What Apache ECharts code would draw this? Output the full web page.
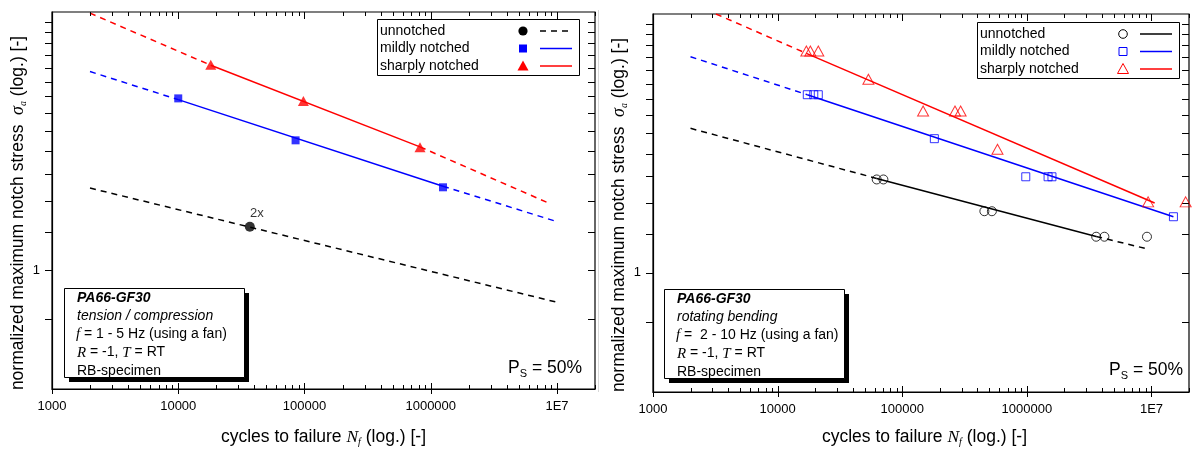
<!DOCTYPE html>
<html><head><meta charset="utf-8">
<script src="https://cdn.jsdelivr.net/npm/echarts@6/dist/echarts.min.js"></script>
<style>html,body{margin:0;padding:0;background:#fff}#c{width:1192px;height:450px}</style>
</head><body><div id="c"></div>
<script>
// ---------- axis definitions ----------
const X_MIN = 1000, X_MAX = 2e7, Y_MIN = 0.5, Y_MAX = 4.5;
const xMajorTicks = [1e3, 1e4, 1e5, 1e6, 1e7];
const xTickLabels = ['1000', '10000', '100000', '1000000', '1E7'];
const xMinorMult = [2, 3, 4, 5, 6, 7, 8, 9];
const yTickValues = [0.75, 1, 1.25, 1.5, 1.75, 2, 2.25, 2.5, 2.75, 3, 3.25, 3.5, 3.75, 4, 4.25];
const yLabelValues = [1];
const yLabelTexts = ['1'];

// ---------- left chart: tension / compression ----------
const L_unN = [36900];
const L_unS = [1.287];
const L_mildN = [10000, 85000, 1250000];
const L_mildS = [2.72, 2.13, 1.62];
const L_sharpN = [18100, 98000, 822000];
const L_sharpS = [3.31, 2.68, 2.045];
// fit lines (null = gap between dashed extrapolation parts)
const L_unDashN = [2000, 9700000];
const L_unDashS = [1.613, 0.831];
const L_mildDashN = [2000, 10000, null, 1250000, 9700000];
const L_mildDashS = [3.18, 2.70, null, 1.63, 1.33];
const L_mildSolidN = [10000, 1250000];
const L_mildSolidS = [2.70, 1.63];
const L_sharpDashN = [2000, 18100, null, 822000, 8500000];
const L_sharpDashS = [4.47, 3.30, null, 2.05, 1.48];
const L_sharpSolidN = [18100, 822000];
const L_sharpSolidS = [3.30, 2.05];

// ---------- right chart: rotating bending ----------
const R_unN = [62400, 70600, 456000, 524000, 3600000, 4190000, 9200000];
const R_unS = [1.72, 1.72, 1.43, 1.43, 1.233, 1.233, 1.233];
const R_mildN = [17300, 19500, 21200, 181000, 980000, 1480000, 1590000, 15000000];
const R_mildS = [2.815, 2.815, 2.815, 2.18, 1.747, 1.747, 1.747, 1.385];
const R_sharpN = [17000, 18300, 21200, 53500, 147000, 265000, 294000, 581000, 9400000, 18800000];
const R_sharpS = [3.63, 3.63, 3.63, 3.08, 2.56, 2.56, 2.56, 2.05, 1.51, 1.51];
const R_unDashN = [2000, 62400, null, 3600000, 8900000];
const R_unDashS = [2.315, 1.73, null, 1.235, 1.152];
const R_unSolidN = [62400, 3600000];
const R_unSolidS = [1.73, 1.235];
const R_mildDashN = [2000, 17300];
const R_mildDashS = [3.51, 2.815];
const R_mildSolidN = [17300, 15000000];
const R_mildSolidS = [2.815, 1.385];
const R_sharpDashN = [3200, 17000];
const R_sharpDashS = [4.5, 3.58];
const R_sharpSolidN = [17000, 10600000];
const R_sharpSolidS = [3.58, 1.50];

// ---------- texts ----------
const legendNames = ['unnotched', 'mildly notched', 'sharply notched'];
const boxLeftLines = ['PA66-GF30', 'tension / compression', ' = 1 - 5 Hz (using a fan)', 'RB-specimen'];
const boxRightLines = ['PA66-GF30', 'rotating bending', ' =  2 - 10 Hz (using a fan)', 'RB-specimen'];

const SANS = '"Liberation Sans", Arial, sans-serif';
const SERIF = '"Liberation Serif", "Times New Roman", serif';
const BLACK = '#000', BLUE = '#0000ff', RED = '#ff0000';

const zip = (a, b) => a.map((v, i) => (v === null ? '-' : [v, b[i]]));
const near = (a, b) => Math.abs(Math.log10(a) - Math.log10(b)) < 1e-6;

const grids = [
  { left: 52, top: 12, width: 543, height: 377 },
  { left: 653, top: 14, width: 543, height: 378 }
];

function xFmt(v) {
  for (let i = 0; i < xMajorTicks.length; i++) if (near(v, xMajorTicks[i])) return xTickLabels[i];
  return '';
}
function yFmt(v) {
  for (let i = 0; i < yLabelValues.length; i++) if (near(v, yLabelValues[i])) return yLabelTexts[i];
  return '';
}

function tickSeries(gi) {
  return {
    type: 'custom', xAxisIndex: gi, yAxisIndex: gi, silent: true, z: 3, clip: false,
    data: [[X_MIN, Y_MIN]],
    renderItem: function (params, api) {
      const ch = [];
      const p0 = api.coord([X_MIN, Y_MIN]), p1 = api.coord([X_MAX, Y_MAX]);
      const x0 = p0[0], y0 = p0[1], x1 = p1[0], y1 = p1[1];
      const st = { stroke: '#000', lineWidth: 1 };
      const L = (a, b, c, d) => ch.push({ type: 'line', shape: { x1: a, y1: b, x2: c, y2: d }, style: st });
      xMajorTicks.forEach(v => {
        const x = Math.round(api.coord([v, Y_MIN])[0]) + 0.5;
        L(x, y0 + 5, x, y0 - 6);
        L(x, y1, x, y1 + 7);
        xMinorMult.forEach(m => {
          const vv = v * m;
          if (vv > X_MAX * 1.0001) return;
          const xm = Math.round(api.coord([vv, Y_MIN])[0]) + 0.5;
          L(xm, y0, xm, y0 - 4);
          L(xm, y1, xm, y1 + 4);
        });
      });
      yTickValues.forEach(v => {
        const y = Math.round(api.coord([X_MIN, v])[1]) + 0.5;
        L(x0, y, x0 - 7, y);
        L(x1, y, x1 - 7, y);
      });
      return { type: 'group', children: ch };
    }
  };
}

function lineS(gi, N, S, color, dashed, z) {
  return {
    type: 'line', xAxisIndex: gi, yAxisIndex: gi, data: zip(N, S), symbol: 'none', silent: true, z: z,
    connectNulls: false,
    lineStyle: { color: color, width: 1.5, type: dashed ? [6, 5] : 'solid' }
  };
}
function scat(gi, N, S, symbol, size, color, hollow, label) {
  return {
    type: 'scatter', xAxisIndex: gi, yAxisIndex: gi, data: zip(N, S), symbol: symbol, symbolSize: size,
    silent: true, z: 6,
    itemStyle: hollow ? { color: 'rgba(0,0,0,0)', borderColor: color, borderWidth: 1 } : { color: color },
    label: label ? { show: true, formatter: label, position: 'top', offset: [7, 3], color: '#000', fontSize: 13, fontFamily: SANS } : { show: false }
  };
}

// ---------- text layout helper ----------
const mctx = document.createElement('canvas').getContext('2d');
function runs(segs, x, y, align, rotation, z) {
  let cx = 0;
  const items = [];
  segs.forEach(s => {
    mctx.font = s.font;
    const w = mctx.measureText(s.t).width;
    items.push({ s: s, x: cx });
    cx += w;
  });
  const shift = align === 'center' ? -cx / 2 : (align === 'right' ? -cx : 0);
  return {
    type: 'group', x: x, y: y, rotation: rotation || 0, z: z || 100,
    children: items.map(it => ({
      type: 'text', x: it.x + shift, y: it.s.dy || 0, z: z || 100,
      style: { text: it.s.t, font: it.s.font, fill: '#000', align: 'left', verticalAlign: 'middle' }
    }))
  };
}

const F14 = '14px ' + SANS;
const F14I = 'italic 14px ' + SANS;
const F14BI = 'italic bold 14px ' + SANS;
const FSI = 'italic 15px ' + SERIF;
const F17 = '17.5px ' + SANS;

function infoBox(bx, by, lines) {
  const g = [];
  g.push({ type: 'rect', z: 90, shape: { x: bx + 5, y: by + 5, width: 180, height: 89 }, style: { fill: '#000' } });
  g.push({ type: 'rect', z: 91, shape: { x: bx + 0.5, y: by + 0.5, width: 180, height: 89 }, style: { fill: '#fff', stroke: '#000', lineWidth: 1 } });
  const tx = bx + 13, t0 = by + 10, dy = 18.2;
  g.push(runs([{ t: lines[0], font: F14BI }], tx, t0, 'left'));
  g.push(runs([{ t: lines[1], font: F14I }], tx, t0 + dy, 'left'));
  g.push(runs([{ t: 'f', font: FSI }, { t: lines[2], font: F14 }], tx - 1, t0 + 2 * dy, 'left'));
  g.push(runs([{ t: 'R', font: FSI }, { t: ' = -1, ', font: F14 }, { t: 'T', font: FSI }, { t: ' = RT', font: F14 }], tx, t0 + 3 * dy, 'left'));
  g.push(runs([{ t: lines[3], font: F14 }], tx, t0 + 4 * dy, 'left'));
  return g;
}

function legendBox(bx, by, hollow, firstDashed) {
  const g = [];
  g.push({ type: 'rect', z: 95, shape: { x: bx + 0.5, y: by + 0.5, width: 202, height: 56 }, style: { fill: '#fff', stroke: '#000', lineWidth: 1 } });
  const colors = [BLACK, BLUE, RED];
  const mx = bx + 146, lx1 = bx + 163, lx2 = bx + 195;
  for (let i = 0; i < 3; i++) {
    const cy = by + 12 + i * 17.5;
    g.push(runs([{ t: legendNames[i], font: F14 }], bx + 3, cy, 'left'));
    const c = colors[i];
    const st = hollow ? { fill: 'rgba(0,0,0,0)', stroke: c, lineWidth: 1 } : { fill: c };
    if (i === 0) g.push({ type: 'circle', z: 101, shape: { cx: mx, cy: cy, r: hollow ? 4.3 : 4.6 }, style: st });
    if (i === 1) g.push({ type: 'rect', z: 101, shape: { x: mx - 4, y: cy - 4, width: 8, height: 8 }, style: st });
    if (i === 2) g.push({ type: 'polygon', z: 101, shape: { points: [[mx, cy - 5.5], [mx + 5.5, cy + 4.5], [mx - 5.5, cy + 4.5]] }, style: st });
    g.push({ type: 'line', z: 101, shape: { x1: lx1, y1: cy, x2: lx2, y2: cy },
      style: { stroke: c, lineWidth: 1.5, lineDash: (i === 0 && firstDashed) ? [6, 5] : null } });
  }
  return g;
}

function titles(gx, gy, gw, gh) {
  const g = [];
  g.push(runs([
    { t: 'cycles to failure ', font: F17 },
    { t: 'N', font: 'italic 17.5px ' + SERIF },
    { t: 'f', font: 'italic 10px ' + SERIF, dy: 5 },
    { t: ' (log.) [-]', font: F17 }
  ], gx + gw / 2, 437, 'center'));
  g.push(runs([
    { t: 'normalized maximum notch stress  ', font: F17 },
    { t: 'σ', font: 'italic 18px ' + SERIF },
    { t: 'a', font: 'italic 10px ' + SERIF, dy: 5 },
    { t: ' (log.) [-]', font: F17 }
  ], gx - 34, gy + 201, 'center', Math.PI / 2));
  g.push(runs([
    { t: 'P', font: F17 },
    { t: 'S', font: '11px ' + SANS, dy: 6 },
    { t: ' = 50%', font: F17 }
  ], gx + 530, gy + 356, 'right'));
  return g;
}

const graphic = [].concat(
  titles(grids[0].left, grids[0].top, grids[0].width, grids[0].height),
  titles(grids[1].left, grids[1].top, grids[1].width, grids[1].height),
  infoBox(64, 288, boxLeftLines),
  infoBox(664, 289, boxRightLines),
  legendBox(377, 19, false, true),
  legendBox(977, 22, true, false),
  [{ type: 'line', z: 1, shape: { x1: 598.5, y1: 10, x2: 598.5, y2: 392 }, style: { stroke: '#d8d8d8', lineWidth: 1 } }]
);

const series = [
  tickSeries(0), tickSeries(1),
  lineS(0, L_unDashN, L_unDashS, BLACK, true, 2),
  lineS(0, L_mildDashN, L_mildDashS, BLUE, true, 2),
  lineS(0, L_mildSolidN, L_mildSolidS, BLUE, false, 3),
  lineS(0, L_sharpDashN, L_sharpDashS, RED, true, 2),
  lineS(0, L_sharpSolidN, L_sharpSolidS, RED, false, 3),
  scat(0, L_unN, L_unS, 'circle', 10, BLACK, false, '2x'),
  scat(0, L_mildN, L_mildS, 'rect', 8, BLUE, false),
  scat(0, L_sharpN, L_sharpS, 'triangle', [11, 10], RED, false),
  lineS(1, R_unDashN, R_unDashS, BLACK, true, 2),
  lineS(1, R_unSolidN, R_unSolidS, BLACK, false, 3),
  lineS(1, R_mildDashN, R_mildDashS, BLUE, true, 2),
  lineS(1, R_mildSolidN, R_mildSolidS, BLUE, false, 3),
  lineS(1, R_sharpDashN, R_sharpDashS, RED, true, 2),
  lineS(1, R_sharpSolidN, R_sharpSolidS, RED, false, 3),
  scat(1, R_unN, R_unS, 'circle', 9, BLACK, true),
  scat(1, R_mildN, R_mildS, 'rect', 8, BLUE, true),
  scat(1, R_sharpN, R_sharpS, 'triangle', [11, 10], RED, true)
];

const chart = echarts.init(document.getElementById('c'), null, { renderer: 'canvas' });
chart.setOption({
  animation: false,
  backgroundColor: '#fff',
  textStyle: { fontFamily: SANS, color: '#000' },
  grid: grids.map(g => Object.assign({ show: true, borderColor: '#000', borderWidth: 1.2, backgroundColor: 'transparent', containLabel: false }, g)),
  xAxis: grids.map((g, i) => ({
    type: 'log', logBase: 10, gridIndex: i, min: X_MIN, max: X_MAX,
    axisLine: { show: true, onZero: false, lineStyle: { color: '#000', width: 1.2 } },
    axisTick: { show: false }, minorTick: { show: false }, splitLine: { show: false },
    axisLabel: { formatter: xFmt, color: '#000', fontSize: 13, margin: 11, fontFamily: SANS, showMinLabel: true, showMaxLabel: true }
  })),
  yAxis: grids.map((g, i) => ({
    type: 'log', logBase: 10, gridIndex: i, min: Y_MIN, max: Y_MAX,
    axisLine: { show: true, onZero: false, lineStyle: { color: '#000', width: 1.2 } },
    axisTick: { show: false }, minorTick: { show: false }, splitLine: { show: false },
    axisLabel: { formatter: yFmt, color: '#000', fontSize: 13, margin: 12, fontFamily: SANS }
  })),
  series: series,
  graphic: graphic
});
</script></body></html>
